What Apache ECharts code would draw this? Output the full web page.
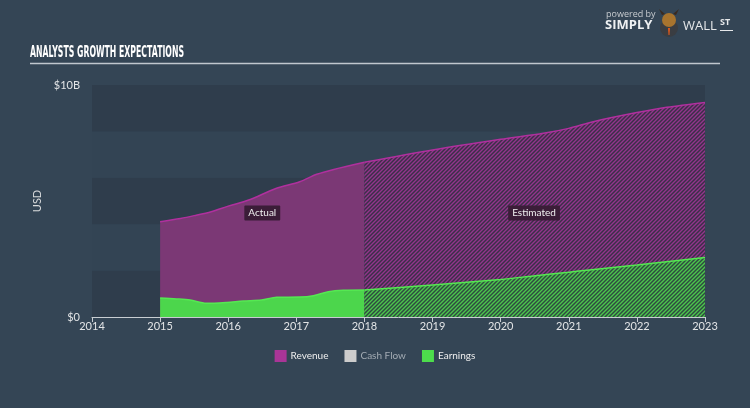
<!DOCTYPE html>
<html><head><meta charset="utf-8">
<script src="https://cdn.jsdelivr.net/npm/echarts@6/dist/echarts.min.js"></script>
<style>html,body{margin:0;padding:0;background:#344555;}#c{width:750px;height:408px;}</style>
</head><body><div id="c"></div>
<script>
// ---- data ----
const xTicks = [2014, 2023];
const revActualYears = [2015, 2015.3, 2015.5, 2015.75, 2016, 2016.3, 2016.7, 2017.05, 2017.3, 2017.55, 2018];
const revActualVals  = [4.11, 4.25, 4.37, 4.54, 4.78, 5.04, 5.54, 5.83, 6.15, 6.36, 6.67];
const revEstYears = [2018, 2019, 2020, 2020.63, 2021, 2021.36, 2022, 2022.44, 2023];
const revEstVals  = [6.67, 7.2, 7.66, 7.92, 8.13, 8.42, 8.81, 9.04, 9.25];
const earnActualYears = [2015, 2015.24, 2015.44, 2015.68, 2015.98, 2016.22, 2016.49, 2016.71, 2017.05, 2017.25, 2017.47, 2017.69, 2018];
const earnActualVals  = [0.82, 0.78, 0.73, 0.59, 0.63, 0.69, 0.73, 0.85, 0.86, 0.92, 1.09, 1.15, 1.16];
const earnEstYears = [2018, 2019, 2020, 2020.48, 2021, 2021.3, 2022, 2023];
const earnEstVals  = [1.16, 1.38, 1.62, 1.77, 1.93, 2.03, 2.24, 2.56];
const legendNames = ['Revenue', 'Cash Flow', 'Earnings'];
const yLabels = {0: '$0', 10: '$10B'};

const pairs = (xs, ys) => xs.map((x, i) => [x, ys[i]]);

function hatch(bg, fg) {
  const c = document.createElement('canvas');
  c.width = c.height = 4;
  const g = c.getContext('2d');
  g.fillStyle = bg; g.fillRect(0, 0, 4, 4);
  g.strokeStyle = fg; g.lineWidth = 1.4;
  g.beginPath();
  g.moveTo(-1, 5); g.lineTo(5, -1);
  g.moveTo(-1, 1); g.lineTo(1, -1);
  g.moveTo(3, 5); g.lineTo(5, 3);
  g.stroke();
  return c;
}

const FONT = 'Lato';
const chart = echarts.init(document.getElementById('c'), null, {renderer: 'canvas'});

// title width fit
const TITLE_FONT = 'bold 15px "DejaVu Sans", sans-serif';
const mc = document.createElement('canvas').getContext('2d');
mc.font = TITLE_FONT;
const titleText = 'ANALYSTS GROWTH EXPECTATIONS';
const tw = mc.measureText(titleText).width;
const sx = 154 / tw;

const labelStyle = {color: '#f0f0f0', fontSize: 10, fontFamily: FONT, backgroundColor: '#3b1d38', padding: [3, 4, 2, 4], borderRadius: 1};

chart.setOption({
  animation: false,
  backgroundColor: '#344555',
  grid: {left: 92, right: 45, top: 85, bottom: 91},
  xAxis: {
    type: 'value', min: xTicks[0], max: xTicks[1], interval: 1,
    axisLine: {lineStyle: {color: '#c8cdd2', width: 1}},
    axisTick: {length: 5, lineStyle: {color: '#c8cdd2'}},
    axisLabel: {color: '#e2e4e6', fontSize: 11, fontFamily: FONT, margin: 4, formatter: v => String(v)},
    splitLine: {show: false}
  },
  yAxis: {
    type: 'value', min: 0, max: 10, interval: 2,
    name: 'USD', nameLocation: 'middle', nameGap: 14, nameRotate: 90,
    nameTextStyle: {color: '#d8dadc', fontSize: 11, fontFamily: FONT},
    axisLine: {show: false}, axisTick: {show: false},
    axisLabel: {color: '#e2e4e6', fontSize: 11, fontFamily: FONT, margin: 12, formatter: v => yLabels[v] || ''},
    splitLine: {show: false},
    splitArea: {show: true, areaStyle: {color: ['#2f3d4c', '#334454']}}
  },
  legend: {
    top: 350, left: 'center', selectedMode: false, padding: 0,
    itemWidth: 12, itemHeight: 12, itemGap: 16, icon: 'rect',
    textStyle: {color: '#eeeeee', fontSize: 10, fontFamily: FONT, padding: [0, 0, 0, -1]},
    data: [
      {name: legendNames[0], itemStyle: {color: '#a93597'}},
      {name: legendNames[1], itemStyle: {color: '#cccccc'}, textStyle: {color: '#a3abb3'}},
      {name: legendNames[2], itemStyle: {color: '#4ddd4c'}}
    ]
  },
  series: [
    {
      name: 'Revenue', type: 'line', smooth: 0.3, symbol: 'none',
      data: pairs(revActualYears, revActualVals),
      lineStyle: {color: '#b0309e', width: 1.5},
      itemStyle: {color: '#a93597'},
      areaStyle: {color: '#7b3875', opacity: 1},
      markPoint: {
        symbol: 'rect', symbolSize: 0,
        data: [
          {coord: [2016.5, 4.48], value: 'Actual', label: Object.assign({show: true, formatter: 'Actual', position: 'inside'}, labelStyle)},
          {coord: [2020.49, 4.48], value: 'Estimated', label: Object.assign({show: true, formatter: 'Estimated', position: 'inside'}, labelStyle)}
        ]
      },
      z: 2
    },
    {
      name: 'Revenue', type: 'line', smooth: 0.3, symbol: 'none',
      data: pairs(revEstYears, revEstVals),
      lineStyle: {color: '#b0309e', width: 1.5},
      itemStyle: {color: '#a93597'},
      areaStyle: {color: {image: hatch('#3a2f47', '#93358c'), repeat: 'repeat'}, opacity: 1},
      z: 2
    },
    {name: 'Cash Flow', type: 'line', data: [], itemStyle: {color: '#cccccc'}},
    {
      name: 'Earnings', type: 'line', smooth: 0.3, symbol: 'none',
      data: pairs(earnActualYears, earnActualVals),
      lineStyle: {color: '#55e852', width: 1.5},
      itemStyle: {color: '#4ddd4c'},
      areaStyle: {color: '#4cd64c', opacity: 1},
      z: 3
    },
    {
      name: 'Earnings', type: 'line', smooth: 0.3, symbol: 'none',
      data: pairs(earnEstYears, earnEstVals),
      lineStyle: {color: '#55e852', width: 1.5},
      itemStyle: {color: '#4ddd4c'},
      areaStyle: {color: {image: hatch('#2e4a40', '#4cc64c'), repeat: 'repeat'}, opacity: 1},
      z: 3
    }
  ],
  graphic: [
    {type: 'text', left: 30, top: 46, scaleX: sx, style: {text: titleText, fill: '#ffffff', font: TITLE_FONT}},
    {type: 'line', shape: {x1: 30, y1: 63.5, x2: 720, y2: 63.5}, style: {stroke: '#c0c7ce', lineWidth: 1.5}},
    {type: 'text', left: 606, top: 10, style: {text: 'powered by', fill: '#c8ccd0', font: '9px "Open Sans"'}},
    {type: 'text', left: 605, top: 19, style: {text: 'SIMPLY', fill: '#eef0f2', font: 'bold 13px "Open Sans"'}},
    {type: 'circle', shape: {cx: 669, cy: 28, r: 9}, style: {fill: '#3a3d42'}},
    {type: 'circle', shape: {cx: 669, cy: 20, r: 7}, style: {fill: '#a8742e'}},
    {type: 'polygon', shape: {points: [[662, 15], [659, 9], [665, 14]]}, style: {fill: '#3a2a20'}},
    {type: 'polygon', shape: {points: [[676, 15], [679, 9], [673, 14]]}, style: {fill: '#3a2a20'}},
    {type: 'polygon', shape: {points: [[668, 28], [670, 28], [669.5, 35], [668.5, 35]]}, style: {fill: '#e05a1c'}},
    {type: 'text', left: 683, top: 20, style: {text: 'WALL', fill: '#e6e8ea', font: '13px "Open Sans"'}},
    {type: 'text', left: 720, top: 18, style: {text: 'ST', fill: '#e6e8ea', font: 'bold 9px "Open Sans"'}},
    {type: 'line', shape: {x1: 720, y1: 30.5, x2: 733, y2: 30.5}, style: {stroke: '#e6e8ea', lineWidth: 1}}
  ]
});
</script>
</body></html>
